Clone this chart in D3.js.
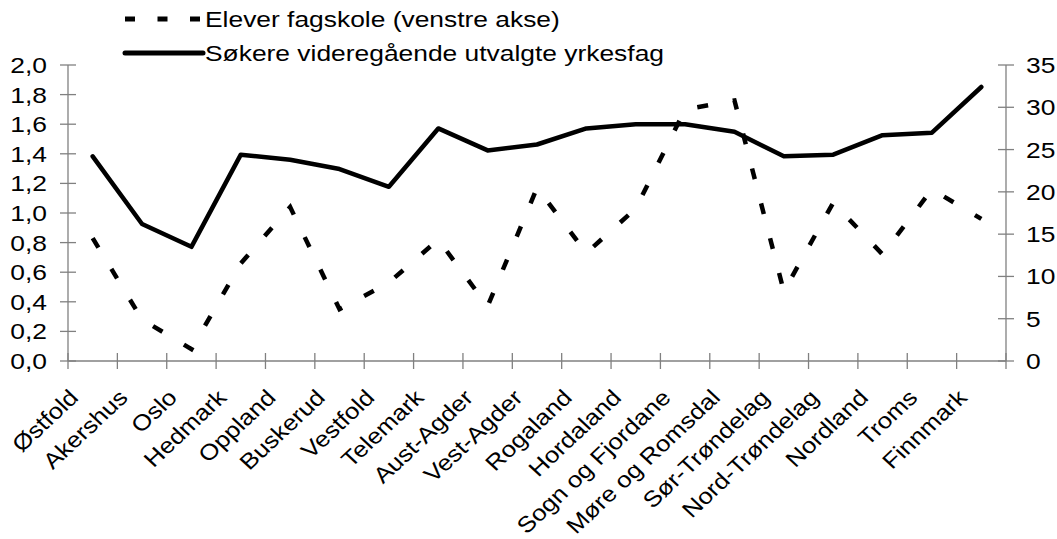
<!DOCTYPE html>
<html>
<head>
<meta charset="utf-8">
<script src="https://cdn.jsdelivr.net/npm/d3@7"></script>
<style>
  html, body { margin: 0; padding: 0; background: #ffffff; }
  svg { display: block; }
  text { font-family: "Liberation Sans", Arial, sans-serif; fill: #000; }
</style>
</head>
<body>
<svg id="chart" width="1057" height="539"></svg>
<script>
// Fylker
const categories = ["Østfold", "Akershus", "Oslo", "Hedmark", "Oppland", "Buskerud", "Vestfold",
  "Telemark", "Aust-Agder", "Vest-Agder", "Rogaland", "Hordaland", "Sogn og Fjordane",
  "Møre og Romsdal", "Sør-Trøndelag", "Nord-Trøndelag", "Nordland", "Troms", "Finnmark"];

// Elever fagskole (venstre akse)
const fagskole = [0.83, 0.28, 0.08, 0.66, 1.04, 0.35, 0.53, 0.82, 0.37, 1.17, 0.73, 1.03,
  1.70, 1.76, 0.47, 1.07, 0.72, 1.16, 0.96];

// Søkere videregående utvalgte yrkesfag (høyre akse)
const sokere = [24.2, 16.2, 13.5, 24.4, 23.8, 22.7, 20.6, 27.5, 24.9, 25.6, 27.5, 28.0,
  28.0, 27.1, 24.2, 24.4, 26.7, 27.0, 32.4];

const leftTicks = [0, 0.2, 0.4, 0.6, 0.8, 1.0, 1.2, 1.4, 1.6, 1.8, 2.0];
const rightTicks = [0, 5, 10, 15, 20, 25, 30, 35];

const seriesNames = ["Elever fagskole (venstre akse)", "Søkere videregående utvalgte yrkesfag"];

const svg = d3.select("#chart");
const axisColor = "#808080";
const fontSize = 22;
const stretch = 1.2;

const plot = { left: 68, right: 1006, top: 65, bottom: 361 };

const x = d3.scaleBand().domain(categories).range([plot.left, plot.right]).paddingInner(0).paddingOuter(0);
const cx = d => x(d) + x.bandwidth() / 2;
const yL = d3.scaleLinear().domain([0, 2]).range([plot.bottom, plot.top]);
const yR = d3.scaleLinear().domain([0, 35]).range([plot.bottom, plot.top]);

const fmtL = v => d3.format(".1f")(v).replace(".", ",");

// axis lines
const axes = svg.append("g").attr("stroke", axisColor).attr("stroke-width", 1.3);
axes.append("line").attr("x1", plot.left).attr("x2", plot.left).attr("y1", plot.top).attr("y2", plot.bottom);
axes.append("line").attr("x1", plot.right).attr("x2", plot.right).attr("y1", plot.top).attr("y2", plot.bottom);
axes.append("line").attr("x1", plot.left).attr("x2", plot.right).attr("y1", plot.bottom).attr("y2", plot.bottom);

// left ticks
axes.selectAll(".tl").data(leftTicks).join("line")
  .attr("x1", plot.left - 8).attr("x2", plot.left + 8)
  .attr("y1", d => yL(d)).attr("y2", d => yL(d));
// right ticks
axes.selectAll(".tr").data(rightTicks).join("line")
  .attr("x1", plot.right - 8).attr("x2", plot.right + 8)
  .attr("y1", d => yR(d)).attr("y2", d => yR(d));
// category boundary ticks
const boundaries = categories.map(c => x(c)).concat([plot.right]);
axes.selectAll(".tb").data(boundaries).join("line")
  .attr("x1", d => d).attr("x2", d => d)
  .attr("y1", plot.bottom - 8).attr("y2", plot.bottom + 8);

// left tick labels
svg.append("g").selectAll("text").data(leftTicks).join("text")
  .attr("transform", d => `translate(47,${yL(d) + 8}) scale(${stretch},1)`)
  .attr("text-anchor", "end")
  .attr("font-size", fontSize)
  .text(fmtL);

// right tick labels
svg.append("g").selectAll("text").data(rightTicks).join("text")
  .attr("transform", d => `translate(1026,${yR(d) + 8}) scale(${stretch},1)`)
  .attr("text-anchor", "start")
  .attr("font-size", fontSize)
  .text(d => d);

// category labels, rotated
svg.append("g").selectAll("text").data(categories).join("text")
  .attr("transform", d => `translate(${cx(d) - 13},${plot.bottom + 38}) scale(1.07,1) rotate(-45) scale(1.1,1)`)
  .attr("text-anchor", "end")
  .attr("font-size", fontSize)
  .text(d => d);

// lines
const lineL = d3.line().x((d, i) => cx(categories[i])).y(d => yL(d));
const lineR = d3.line().x((d, i) => cx(categories[i])).y(d => yR(d));

svg.append("path").datum(fagskole)
  .attr("d", lineL)
  .attr("fill", "none").attr("stroke", "#000").attr("stroke-width", 4.5)
  .attr("stroke-dasharray", "11,25");

svg.append("path").datum(sokere)
  .attr("d", lineR)
  .attr("fill", "none").attr("stroke", "#000").attr("stroke-width", 4.5)
  .attr("stroke-linejoin", "round").attr("stroke-linecap", "round");

// legend
const legend = svg.append("g");
const legendRows = [
  { name: seriesNames[0], y: 19, dash: "10,22.5", cap: "butt" },
  { name: seriesNames[1], y: 53, dash: null, cap: "round" }
];
legendRows.forEach(r => {
  legend.append("line")
    .attr("x1", 125).attr("x2", r.dash ? 200 : 203)
    .attr("y1", r.y).attr("y2", r.y)
    .attr("stroke", "#000").attr("stroke-width", 5)
    .attr("stroke-dasharray", r.dash)
    .attr("stroke-linecap", r.cap);
  legend.append("text")
    .attr("transform", `translate(205,${r.y + 8}) scale(${stretch},1)`)
    .attr("font-size", fontSize)
    .text(r.name);
});
</script>
</body>
</html>
